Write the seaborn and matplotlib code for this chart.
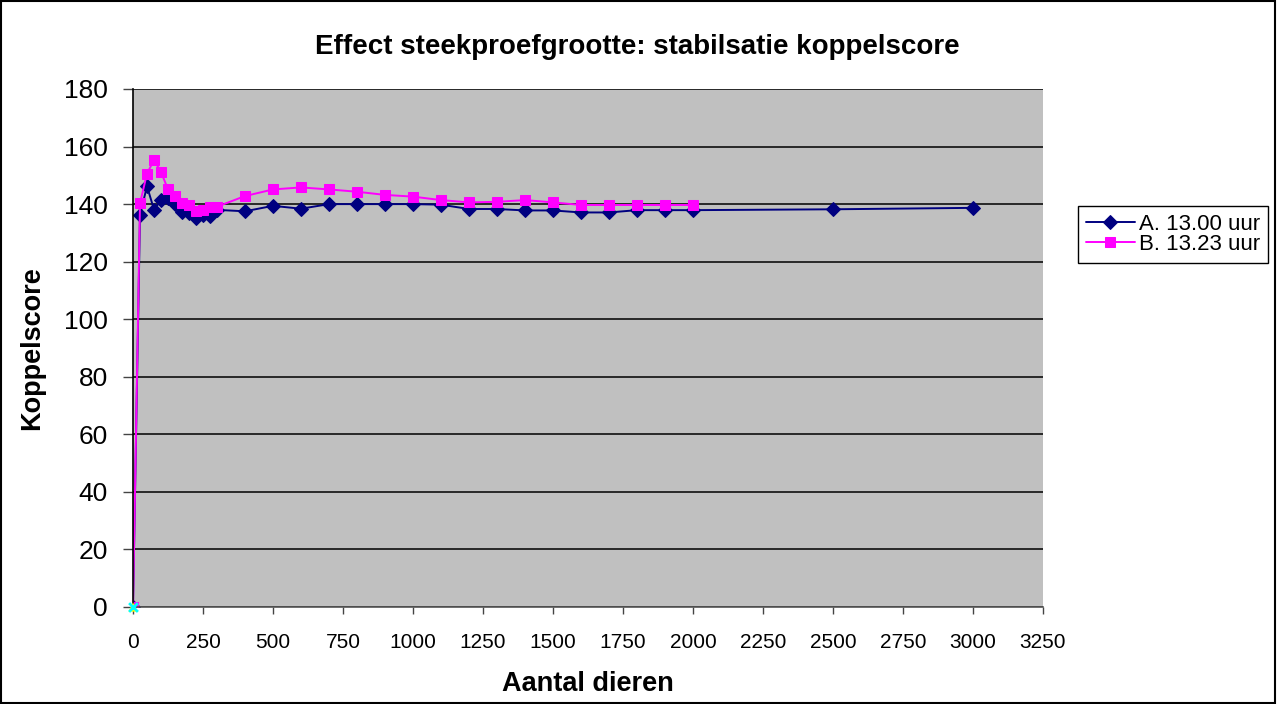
import matplotlib
matplotlib.use("Agg")
import matplotlib.pyplot as plt
import seaborn as sns
import pandas as pd
from matplotlib.patches import Rectangle

sns.set_theme(style="white")
plt.rcParams['font.family'] = ['Liberation Sans', 'DejaVu Sans']
plt.rcParams['text.color'] = 'black'
plt.rcParams['axes.labelcolor'] = 'black'
plt.rcParams['xtick.color'] = 'black'
plt.rcParams['ytick.color'] = 'black'

# Data
x_a = [0, 25, 50, 75, 100, 125, 150, 175, 200, 225, 250, 275, 300, 400, 500, 600, 700,
       800, 900, 1000, 1100, 1200, 1300, 1400, 1500, 1600, 1700, 1800, 1900, 2000, 2500, 3000]
y_a = [0, 136.3, 146.2, 138.1, 141.3, 142.0, 140.0, 137.3, 136.9, 135.2, 136.2, 135.8, 138.0,
       137.5, 139.4, 138.4, 140.0, 140.0, 140.0, 140.0, 139.8, 138.3, 138.3, 137.8, 137.8,
       137.1, 137.1, 137.9, 137.9, 137.9, 138.2, 138.7]
x_b = [0, 25, 50, 75, 100, 125, 150, 175, 200, 225, 250, 275, 300, 400, 500, 600, 700,
       800, 900, 1000, 1100, 1200, 1300, 1400, 1500, 1600, 1700, 1800, 1900, 2000]
y_b = [0, 140.3, 150.6, 155.3, 151.2, 145.1, 142.8, 140.5, 139.6, 137.5, 138.0, 139.0, 139.1,
       142.8, 145.1, 145.8, 145.1, 144.3, 143.2, 142.6, 141.4, 140.6, 140.8, 141.4, 140.6,
       139.7, 139.7, 139.7, 139.7, 139.7]
# extra (unlabelled) series visible only at the origin
x_c = [0]
y_c = [0]
label_a = "A. 13.00 uur"
label_b = "B. 13.23 uur"
x_ticks = list(range(0, 3251, 250))
y_ticks = list(range(0, 181, 20))

df_a = pd.DataFrame({"x": x_a, "y": y_a})
df_b = pd.DataFrame({"x": x_b, "y": y_b})
df_c = pd.DataFrame({"x": x_c, "y": y_c})

fig = plt.figure(figsize=(12.78, 7.04), dpi=100)
fig.patch.set_facecolor("white")
ax = fig.add_axes([133/1278, 1-607/704, (1043-133)/1278, (607-89)/704])
ax.set_facecolor("#C0C0C0")

sns.lineplot(data=df_a, x="x", y="y", ax=ax, sort=False, color="#000080", lw=1.4,
             marker="D", markersize=7, markeredgecolor="#000080", label=label_a)
sns.lineplot(data=df_b, x="x", y="y", ax=ax, sort=False, color="#FF00FF", lw=1.4,
             marker="s", markersize=7.5, markeredgecolor="#FF00FF", label=label_b)
sns.scatterplot(data=df_c, x="x", y="y", ax=ax, color="#FFFF00", marker="^", s=45,
                edgecolor="none", clip_on=False, zorder=5, legend=False)
sns.scatterplot(data=df_c, x="x", y="y", ax=ax, color="#00FFFF", marker="x", s=40,
                linewidth=2, clip_on=False, zorder=6, legend=False)

ax.set_xlim(0, 3250)
ax.set_ylim(0, 180)
ax.set_xticks(x_ticks)
ax.set_yticks(y_ticks)
ax.set_xticklabels([str(t) for t in x_ticks], fontsize=15)
ax.set_yticklabels([str(t) for t in y_ticks], fontsize=19)
ax.yaxis.grid(True, color="black", lw=1.1)
ax.set_axisbelow(True)
ax.tick_params(axis="x", which="major", direction="out", length=5, width=1,
               color="#444444", bottom=True, pad=14)
ax.tick_params(axis="y", which="major", direction="out", length=7, width=1,
               color="#444444", left=True, pad=11)
for s in ["top", "right"]:
    ax.spines[s].set_visible(False)
ax.spines["left"].set_color("black")
ax.spines["bottom"].set_color("#555555")
ax.spines["left"].set_linewidth(1.2)
ax.spines["bottom"].set_linewidth(1.2)
ax.set_xlabel("")
ax.set_ylabel("")
ax.get_legend().remove()

fig.text(637/1278, 1-47/704, "Effect steekproefgrootte: stabilsatie koppelscore",
         ha="center", va="center", fontsize=20, fontweight="bold")
fig.text(588/1278, 1-684/704, "Aantal dieren", ha="center", va="center",
         fontsize=19.5, fontweight="bold")
fig.text(32/1278, 1-348/704, "Koppelscore", ha="center", va="center", rotation=90,
         fontsize=19.5, fontweight="bold")

handles, labels = ax.get_legend_handles_labels()
leg = fig.legend(handles[:2], labels[:2], loc="upper left",
                 bbox_to_anchor=(1078/1278, 1-206/704),
                 fontsize=16, frameon=True, fancybox=False, framealpha=1,
                 edgecolor="black", handlelength=2.2, handletextpad=0.2,
                 labelspacing=-0.05, borderpad=0.36, borderaxespad=0)
leg.get_frame().set_linewidth(1.0)

fig.patches.append(Rectangle((0.001, 0.001), 0.997, 0.997, transform=fig.transFigure,
                             fill=False, edgecolor="black", lw=1.5))

fig.savefig("out.png", dpi=100, facecolor="white")
